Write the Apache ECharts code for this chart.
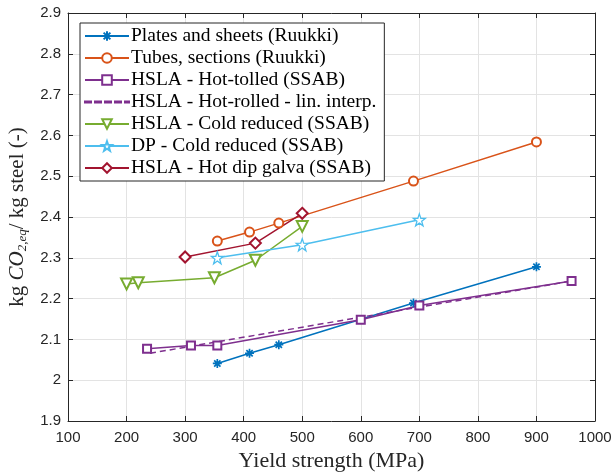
<!DOCTYPE html>
<html>
<head>
<meta charset="utf-8">
<script src="https://cdn.jsdelivr.net/npm/echarts@6/dist/echarts.min.js"></script>
<style>
  html, body { margin: 0; padding: 0; background: #fff; }
  #chart { width: 611px; height: 472px; }
</style>
</head>
<body>
<div id="chart"></div>
<script>
// values (yield strength MPa, kg CO2eq / kg steel)
const platesX = [355, 410, 460, 690, 900];
const platesY = [2.041, 2.066, 2.087, 2.189, 2.278];
const tubesX = [355, 410, 460, 690, 900];
const tubesY = [2.341, 2.363, 2.385, 2.488, 2.584];
const hotRolledX = [235, 310, 355, 600, 700, 960];
const hotRolledY = [2.077, 2.085, 2.085, 2.148, 2.183, 2.243];
const interpX = [240, 960];
const interpY = [2.066, 2.243];
const coldX = [200, 220, 350, 420, 500];
const coldY = [2.236, 2.239, 2.251, 2.294, 2.377];
const dpX = [355, 500, 700];
const dpY = [2.300, 2.332, 2.393];
const galvaX = [300, 420, 500];
const galvaY = [2.302, 2.336, 2.409];

const names = [
  'Plates and sheets (Ruukki)',
  'Tubes, sections (Ruukki)',
  'HSLA - Hot-tolled (SSAB)',
  'HSLA - Hot-rolled - lin. interp.',
  'HSLA - Cold reduced (SSAB)',
  'DP - Cold reduced (SSAB)',
  'HSLA - Hot dip galva (SSAB)'
];

const xTicks = [100, 1000, 100]; // min, max, step
const yTicks = [1.9, 2.9, 0.1];

const zip = (xs, ys) => xs.map((x, i) => [x, ys[i]]);

const asterisk = 'path://M0,-5L0,5M-5,0L5,0M-3.5,-3.5L3.5,3.5M-3.5,3.5L3.5,-3.5';
const star = 'path://M0,-5L1.18,-1.62L4.76,-1.55L1.9,0.62L2.94,4.05L0,2L-2.94,4.05L-1.9,0.62L-4.76,-1.55L-1.18,-1.62Z';
// dashed legend swatch (no marker)
const dashIcon = 'path://M0,0h6v1.2h-6zM10,0h6v1.2h-6zM20,0h6v1.2h-6zM30,0h6v1.2h-6zM40,0h4v1.2h-4z';

const serif = '"Liberation Serif", "DejaVu Serif", serif';
const sans = '"Liberation Sans", Arial, sans-serif';
const axisCol = '#262626';

function mk(name, data, color, symbol, size, extra) {
  return Object.assign({
    name: name,
    type: 'line',
    data: data,
    symbol: symbol,
    symbolSize: size,
    showSymbol: true,
    z: 3,
    lineStyle: { color: color, width: 1.5 },
    itemStyle: { color: color, borderColor: color, borderWidth: 1.2 },
    emphasis: { disabled: true },
    animation: false
  }, extra || {});
}

const series = [
  mk(names[0], zip(platesX, platesY), '#0072BD', asterisk, 9,
     { itemStyle: { color: '#fff', borderColor: '#0072BD', borderWidth: 1.7 } }),
  mk(names[1], zip(tubesX, tubesY), '#D95319', 'emptyCircle', 9),
  mk(names[2], zip(hotRolledX, hotRolledY), '#7E2F8E', 'emptyRect', 8),
  mk(names[3], zip(interpX, interpY), '#7E2F8E', 'none', 0,
     { lineStyle: { color: '#7E2F8E', width: 1.5, type: [6, 4] } }),
  mk(names[4], zip(coldX, coldY), '#77AC30', 'emptyTriangle', 11, { symbolRotate: 180 }),
  mk(names[5], zip(dpX, dpY), '#4DBEEE', star, 12,
     { itemStyle: { color: '#fff', borderColor: '#4DBEEE', borderWidth: 1.3 } }),
  mk(names[6], zip(galvaX, galvaY), '#A2142F', 'emptyDiamond', 11)
];

const chart = echarts.init(document.getElementById('chart'), null, { renderer: 'canvas' });

const baseX = {
  type: 'value', min: xTicks[0], max: xTicks[1], interval: xTicks[2],
  axisLine: { show: true, onZero: false, lineStyle: { color: axisCol, width: 1 } },
  axisTick: { show: true, inside: true, length: 5, lineStyle: { color: axisCol } },
  splitLine: { show: false }
};
const baseY = {
  type: 'value', min: yTicks[0], max: yTicks[1], interval: yTicks[2],
  axisLine: { show: true, onZero: false, lineStyle: { color: axisCol, width: 1 } },
  axisTick: { show: true, inside: true, length: 5, lineStyle: { color: axisCol } },
  splitLine: { show: false }
};

const legendData = names.map((n, i) => i === 3 ? { name: n, icon: dashIcon } : { name: n });

chart.setOption({
  backgroundColor: '#fff',
  animation: false,
  grid: { left: 68, right: 16, top: 13, bottom: 51, outerBoundsMode: 'none', containLabel: false },
  legend: {
    orient: 'vertical',
    left: 80,
    top: 23,
    padding: [3, 8, 3, 4],
    itemWidth: 44,
    itemHeight: 12,
    itemGap: 2.0,
    backgroundColor: '#fff',
    borderColor: axisCol,
    borderWidth: 1,
    textStyle: { fontFamily: serif, fontSize: 19.5, lineHeight: 18.5, color: '#000', padding: [0, 0, 0, -3] },
    data: legendData,
    z: 10
  },
  xAxis: [
    Object.assign({}, baseX, {
      position: 'bottom',
      axisLabel: { fontFamily: sans, fontSize: 15, color: axisCol, margin: 9, formatter: v => String(v) },
      splitLine: { show: true, lineStyle: { color: '#e3e3e3', width: 1 } },
      name: 'Yield strength (MPa)',
      nameLocation: 'middle',
      nameGap: 23,
      nameTextStyle: { fontFamily: serif, fontSize: 22, color: axisCol }
    }),
    Object.assign({}, baseX, { position: 'top', axisLabel: { show: false } })
  ],
  yAxis: [
    Object.assign({}, baseY, {
      position: 'left',
      axisLabel: { fontFamily: sans, fontSize: 15, color: axisCol, margin: 7 },
      splitLine: { show: true, lineStyle: { color: '#e3e3e3', width: 1 } },
      name: '{a|kg }{i|CO}{s|2,eq}{a|/ kg steel (-)}',
      nameLocation: 'middle',
      nameRotate: 90,
      nameGap: 30,
      nameTextStyle: {
        fontFamily: serif, fontSize: 21, color: axisCol,
        rich: {
          a: { fontFamily: serif, fontSize: 21, color: axisCol },
          i: { fontFamily: serif, fontSize: 21, fontStyle: 'italic', color: axisCol },
          s: { fontFamily: serif, fontSize: 13, fontStyle: 'italic', color: axisCol, padding: [11, 0, 0, 0] }
        }
      }
    }),
    Object.assign({}, baseY, { position: 'right', axisLabel: { show: false } })
  ],
  series: series
});
</script>
</body>
</html>
